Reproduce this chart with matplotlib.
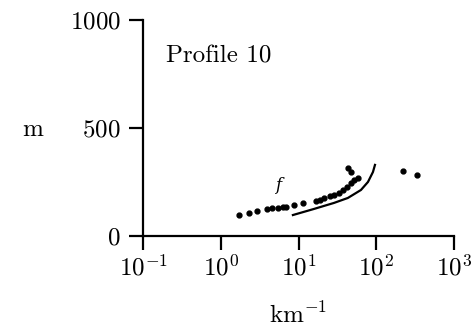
import matplotlib.pyplot as plt

plt.rcParams['font.family'] = 'serif'
plt.rcParams['font.serif'] = ['cmr10', 'DejaVu Serif']
plt.rcParams['mathtext.fontset'] = 'cm'
plt.rcParams['axes.formatter.use_mathtext'] = True

# observed points (wavenumber km^-1, height m)
dots_x = [1.7, 2.3, 2.9, 3.9, 4.6, 5.4, 6.3, 6.9, 8.7, 11.4, 16.7, 19, 21, 25, 28.5, 33, 37, 42, 47, 52, 58,
          43, 47, 219, 333]
dots_y = [97, 106, 116, 125, 128, 131, 134, 136, 143, 153, 162, 168, 176, 183, 190, 200, 213, 228, 245, 257, 268,
          315, 296, 301, 282]

# fitted curve
curve_x = [8.45, 15.7, 28.5, 43, 63.4, 78, 90.4, 96]
curve_y = [97, 125, 153, 176, 213, 250, 296, 329]

fig = plt.figure(figsize=(4.77, 3.31), dpi=100)
ax = fig.add_axes([0.300, 0.287, 0.652, 0.653])

ax.plot(dots_x, dots_y, 'k.', markersize=7)
ax.plot(curve_x, curve_y, 'k-', linewidth=1.6)

ax.set_xscale('log')
ax.set_xlim(0.1, 1000)
ax.set_ylim(0, 1000)
ax.set_xticks([0.1, 1, 10, 100, 1000])
ax.set_yticks([0, 500, 1000])
ax.minorticks_off()

for s in ['top', 'right']:
    ax.spines[s].set_visible(False)
for s in ['left', 'bottom']:
    ax.spines[s].set_linewidth(1.6)
ax.tick_params(direction='out', length=10, width=1.6, labelsize=18)
ax.tick_params(axis='y', pad=6)
ax.tick_params(axis='x', pad=3)

ax.text(5.0, 215, 'f', fontsize=12, style='italic', family='DejaVu Serif')
ax.text(0.196, 801, 'Profile 10', fontsize=18)
fig.text(0.046, 0.59, 'm', fontsize=18)
fig.text(0.625, 0.024, r'km$^{-1}$', fontsize=18, ha='center', va='baseline')

fig.savefig('out.png', dpi=100)
